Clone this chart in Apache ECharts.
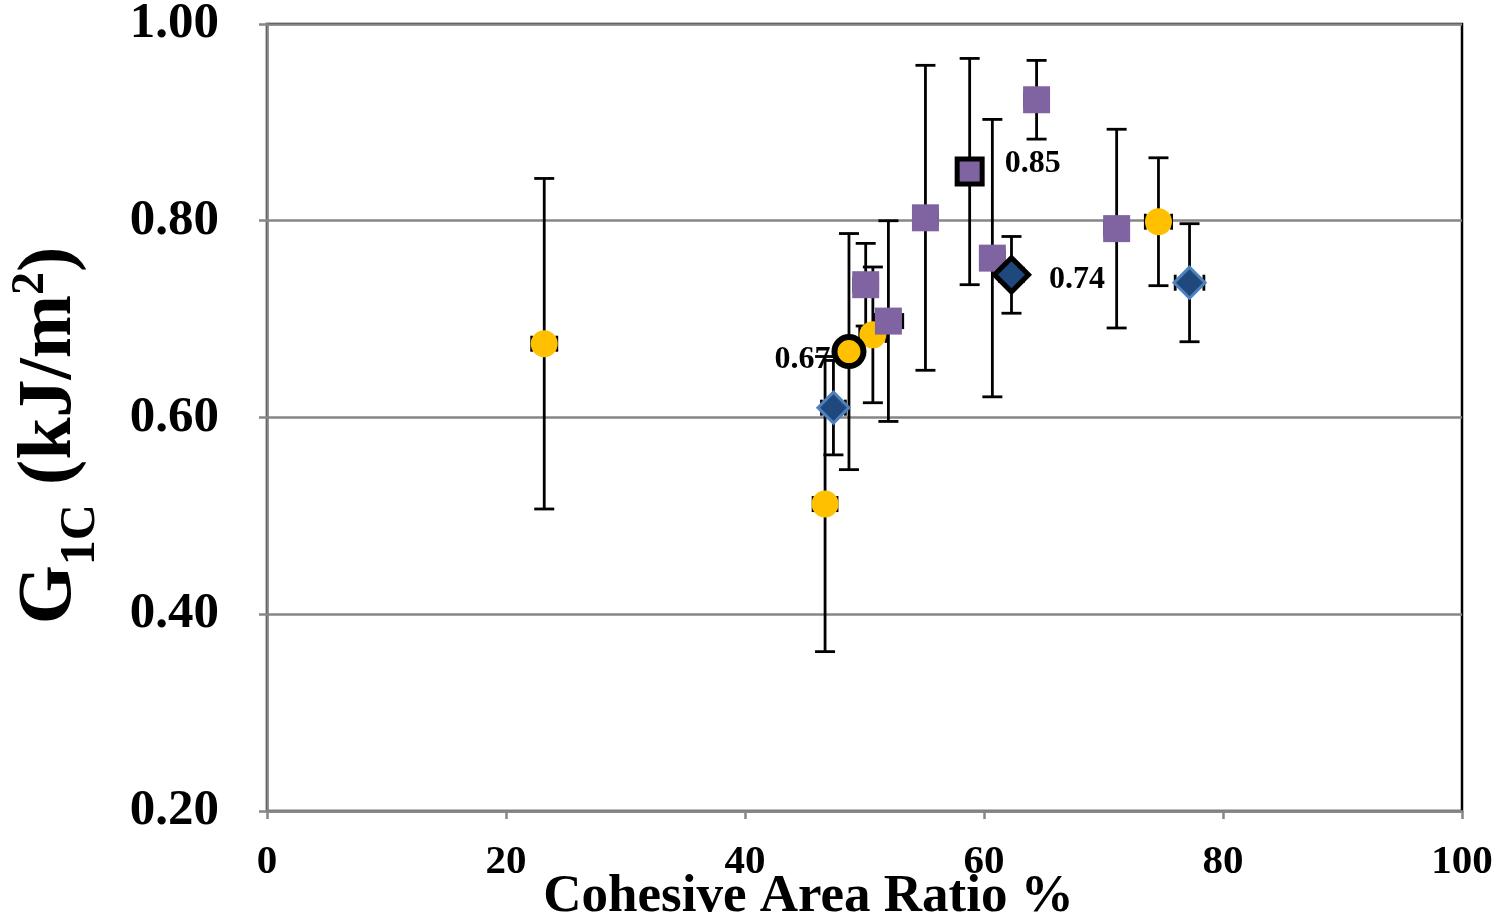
<!DOCTYPE html>
<html>
<head>
<meta charset="utf-8">
<script src="https://cdn.jsdelivr.net/npm/echarts@6/dist/echarts.min.js"></script>
<style>
  html, body { margin: 0; padding: 0; background: #fff; }
  #chart { width: 1505px; height: 920px; }
</style>
</head>
<body>
<div id="chart"></div>
<script>
// [x %, G1C mean, y error, x error]
const yellowPts = [
  [23.2, 0.675, 0.168, 1.05],
  [46.7, 0.512, 0.150, 1.0],
  [50.7, 0.684, 0.069, 1.1],
  [74.6, 0.799, 0.065, 1.1]
];
const bluePts = [
  [47.4, 0.610, 0.048, 1.0],
  [77.2, 0.737, 0.060, 1.2]
];
const purplePts = [
  [50.1, 0.735, 0.042, 1.0],
  [52.0, 0.698, 0.102, 1.2],
  [55.1, 0.803, 0.155, 1.0],
  [60.7, 0.762, 0.141, 1.0],
  [64.4, 0.923, 0.040, 1.0],
  [71.1, 0.792, 0.101, 1.0]
];
// highlighted averages
const yellowAvg = [[48.7, 0.667, 0.120, 1.0]];
const purpleAvg = [[58.8, 0.850, 0.115, 1.0]];
const blueAvg = [[62.3, 0.745, 0.039, 1.0]];
const avgLabels = ['0.67', '0.85', '0.74'];

const yTicks = [0.2, 0.4, 0.6, 0.8, 1.0];
const xTicks = [0, 20, 40, 60, 80, 100];

const FONT = '"Liberation Serif", "Times New Roman", serif';
const YELLOW = '#FFC000';
const PURPLE = '#8064A2';
const BLUE = '#1F497D';

const allPts = [].concat(yellowPts, bluePts, purplePts, yellowAvg, purpleAvg, blueAvg);

function errorBars(params, api) {
  const x = api.value(0), y = api.value(1), ey = api.value(2), ex = api.value(3);
  const top = api.coord([x, y + ey]);
  const bot = api.coord([x, y - ey]);
  const left = api.coord([x - ex, y]);
  const right = api.coord([x + ex, y]);
  const cap = 10;
  const style = { stroke: '#000', lineWidth: 2.8 };
  return {
    type: 'group',
    children: [
      { type: 'line', shape: { x1: top[0], y1: top[1], x2: bot[0], y2: bot[1] }, style },
      { type: 'line', shape: { x1: top[0] - cap, y1: top[1], x2: top[0] + cap, y2: top[1] }, style },
      { type: 'line', shape: { x1: bot[0] - cap, y1: bot[1], x2: bot[0] + cap, y2: bot[1] }, style },
      { type: 'line', shape: { x1: left[0], y1: left[1], x2: right[0], y2: right[1] }, style },
      { type: 'line', shape: { x1: left[0], y1: left[1] - 8, x2: left[0], y2: left[1] + 8 }, style },
      { type: 'line', shape: { x1: right[0], y1: right[1] - 8, x2: right[0], y2: right[1] + 8 }, style }
    ]
  };
}

const chart = echarts.init(document.getElementById('chart'));

chart.setOption({
  animation: false,
  textStyle: { fontFamily: FONT },
  grid: {
    left: 267, right: 43, top: 24, bottom: 109,
    outerBoundsMode: 'none',
    show: true, borderColor: '#000', borderWidth: 2.5, backgroundColor: 'transparent'
  },
  xAxis: {
    type: 'value',
    min: xTicks[0], max: xTicks[xTicks.length - 1], interval: 20,
    name: 'Cohesive Area Ratio %',
    nameLocation: 'middle',
    nameGap: 60,
    nameMoveOverlap: false,
    nameTextStyle: { fontFamily: FONT, fontWeight: 'bold', fontSize: 53, color: '#000', padding: [0, 112, 0, 0] },
    axisLine: { lineStyle: { color: '#868686', width: 2.5 } },
    axisTick: { show: true, length: 8, lineStyle: { color: '#868686', width: 2.5 } },
    axisLabel: { fontFamily: FONT, fontWeight: 'bold', fontSize: 41, color: '#000', margin: 31 },
    splitLine: { show: false }
  },
  yAxis: {
    type: 'value',
    min: yTicks[0], max: yTicks[yTicks.length - 1], interval: 0.2,
    name: '{g|G}{s|1C}{g| (kJ/m}{p|2}{g|)}',
    nameLocation: 'middle',
    nameGap: 175,
    nameMoveOverlap: false,
    nameTextStyle: {
      color: '#000',
      padding: [0, 36, 0, 0],
      rich: {
        g: { fontFamily: FONT, fontWeight: 'bold', fontSize: 76, color: '#000', lineHeight: 84 },
        s: { fontFamily: FONT, fontWeight: 'bold', fontSize: 50, color: '#000', verticalAlign: 'bottom', lineHeight: 40, padding: [0, 0, -14, 0] },
        p: { fontFamily: FONT, fontWeight: 'bold', fontSize: 46, color: '#000', verticalAlign: 'top', lineHeight: 46 }
      }
    },
    axisLine: { show: true, lineStyle: { color: '#868686', width: 2.5 } },
    axisTick: { show: true, length: 8, lineStyle: { color: '#868686', width: 2.5 } },
    axisLabel: {
      fontFamily: FONT, fontWeight: 'bold', fontSize: 51, color: '#000', margin: 48,
      padding: [6, 0, 0, 0],
      formatter: v => v.toFixed(2)
    },
    splitLine: { show: true, lineStyle: { color: '#868686', width: 2.5 } }
  },
  series: [
    {
      type: 'custom',
      renderItem: errorBars,
      data: allPts,
      z: 1,
      silent: true
    },
    {
      type: 'scatter', name: 'yellow', symbol: 'circle', symbolSize: 27,
      itemStyle: { color: YELLOW, opacity: 1 },
      data: yellowPts.map(p => [p[0], p[1]]), z: 3
    },
    {
      type: 'scatter', name: 'purple', symbol: 'rect', symbolSize: 27,
      itemStyle: { color: PURPLE, opacity: 1 },
      data: purplePts.map(p => [p[0], p[1]]), z: 3
    },
    {
      type: 'scatter', name: 'blue', symbol: 'diamond', symbolSize: 31,
      itemStyle: { color: BLUE, borderColor: '#4F81BD', borderWidth: 3, opacity: 1 },
      data: bluePts.map(p => [p[0], p[1]]), z: 3
    },
    {
      type: 'scatter', name: 'yellowAvg', symbol: 'circle', symbolSize: 29,
      itemStyle: { color: YELLOW, borderColor: '#000', borderWidth: 6, opacity: 1 },
      label: {
        show: true, position: 'left', distance: 1, formatter: () => avgLabels[0],
        fontFamily: FONT, fontWeight: 'bold', fontSize: 32, color: '#000', offset: [0, 8]
      },
      data: yellowAvg.map(p => [p[0], p[1]]), z: 4
    },
    {
      type: 'scatter', name: 'purpleAvg', symbol: 'rect', symbolSize: 25,
      itemStyle: { color: PURPLE, borderColor: '#000', borderWidth: 5, opacity: 1 },
      label: {
        show: true, position: 'right', distance: 20, formatter: () => avgLabels[1],
        fontFamily: FONT, fontWeight: 'bold', fontSize: 32, color: '#000', offset: [0, -8]
      },
      data: purpleAvg.map(p => [p[0], p[1]]), z: 4
    },
    {
      type: 'scatter', name: 'blueAvg', symbol: 'diamond', symbolSize: 34,
      itemStyle: { color: BLUE, borderColor: '#000', borderWidth: 5, opacity: 1 },
      label: {
        show: true, position: 'right', distance: 18, formatter: () => avgLabels[2],
        fontFamily: FONT, fontWeight: 'bold', fontSize: 32, color: '#000', offset: [0, 5]
      },
      data: blueAvg.map(p => [p[0], p[1]]), z: 4
    }
  ]
});
</script>
</body>
</html>
